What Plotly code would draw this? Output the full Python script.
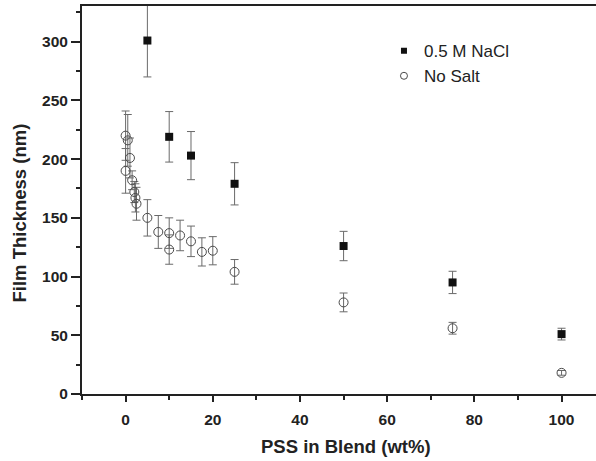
import plotly.graph_objects as go

# Data
salt_x = [5, 10, 15, 25, 50, 75, 100]
salt_y = [301, 219, 203, 179, 126, 95, 51]
salt_err = [31, 21.5, 20.5, 18, 12.5, 9.5, 5]

nosalt_x = [0, 0, 0.5, 1, 1.5, 2, 2.25, 2.5, 5, 7.5, 10, 10, 12.5, 15, 17.5, 20, 25, 50, 75, 100]
nosalt_y = [190, 220, 216, 201, 182, 172, 167, 162, 150, 138, 137, 123, 135, 130, 121, 122, 104, 78, 56, 18]
nosalt_err = [19, 21, 22, 17, 8, 9, 12, 14, 15.5, 14, 13, 12.5, 13, 13, 12, 12, 10.5, 8, 5, 2]

series_names = ["0.5 M NaCl", "No Salt"]
x_title = "PSS in Blend (wt%)"
y_title = "Film Thickness (nm)"

FONT = "Arial, 'Liberation Sans', sans-serif"
ERRC = "#6a6a6a"
TXT = "#222222"

fig = go.Figure()
fig.add_trace(go.Scatter(
    x=salt_x, y=salt_y, mode="markers", name=series_names[0], showlegend=False,
    marker=dict(symbol="square", size=8, color="#111111", line=dict(width=0)),
    error_y=dict(type="data", array=salt_err, color=ERRC, thickness=1, width=4),
))
fig.add_trace(go.Scatter(
    x=nosalt_x, y=nosalt_y, mode="markers", name=series_names[1], showlegend=False,
    marker=dict(symbol="circle-open", size=9, color="#4a4a4a", line=dict(width=1)),
    error_y=dict(type="data", array=nosalt_err, color=ERRC, thickness=1, width=4),
))
# legend entries (smaller symbols, as in the reference legend)
fig.add_trace(go.Scatter(
    x=[None], y=[None], mode="markers", name=series_names[0],
    marker=dict(symbol="square", size=6, color="#111111", line=dict(width=0)),
))
fig.add_trace(go.Scatter(
    x=[None], y=[None], mode="markers", name=series_names[1],
    marker=dict(symbol="circle-open", size=7, color="#4a4a4a", line=dict(width=1)),
))

axis_common = dict(
    showgrid=False, zeroline=False, showline=True, linecolor=TXT, linewidth=2,
    ticks="outside", tickwidth=1.5, tickcolor=TXT,
    tickfont=dict(family=FONT, size=15.5, color=TXT, weight="bold"),
)

fig.update_layout(
    width=596, height=461,
    margin=dict(l=82, r=0, t=6, b=67),
    paper_bgcolor="white", plot_bgcolor="white",
    font=dict(family=FONT, color=TXT),
    showlegend=True,
    legend=dict(x=0.5875, y=0.93, xanchor="left", yanchor="top",
                bgcolor="rgba(0,0,0,0)", font=dict(family=FONT, size=17, color=TXT),
                tracegroupgap=0, itemwidth=30),
    xaxis=dict(
        **axis_common, range=[-10, 107.9], dtick=20, tick0=0, mirror=True, ticklen=6,
        ticklabelstandoff=4,
        minor=dict(ticks="outside", dtick=10, tick0=0, ticklen=4, tickwidth=1.5, tickcolor=TXT),
    ),
    yaxis=dict(
        **axis_common, range=[0, 330.4], dtick=50, tick0=0, ticklen=9,
        minor=dict(ticks="outside", dtick=25, tick0=0, ticklen=4, tickwidth=1.5, tickcolor=TXT),
    ),
    annotations=[
        dict(text=x_title, xref="paper", yref="paper", x=(345.5 - 82) / 514, y=(394 - 446.5) / 388,
             xanchor="center", yanchor="middle", showarrow=False,
             font=dict(family=FONT, size=18.5, color=TXT, weight="bold")),
        dict(text=y_title, xref="paper", yref="paper", x=(19 - 82) / 514, y=(394 - 213.5) / 388,
             xanchor="center", yanchor="middle", showarrow=False, textangle=-90,
             font=dict(family=FONT, size=18.5, color=TXT, weight="bold")),
    ],
)

fig.write_html("out.html", config={"displayModeBar": False},
               post_script="document.body.style.margin='0px';")
